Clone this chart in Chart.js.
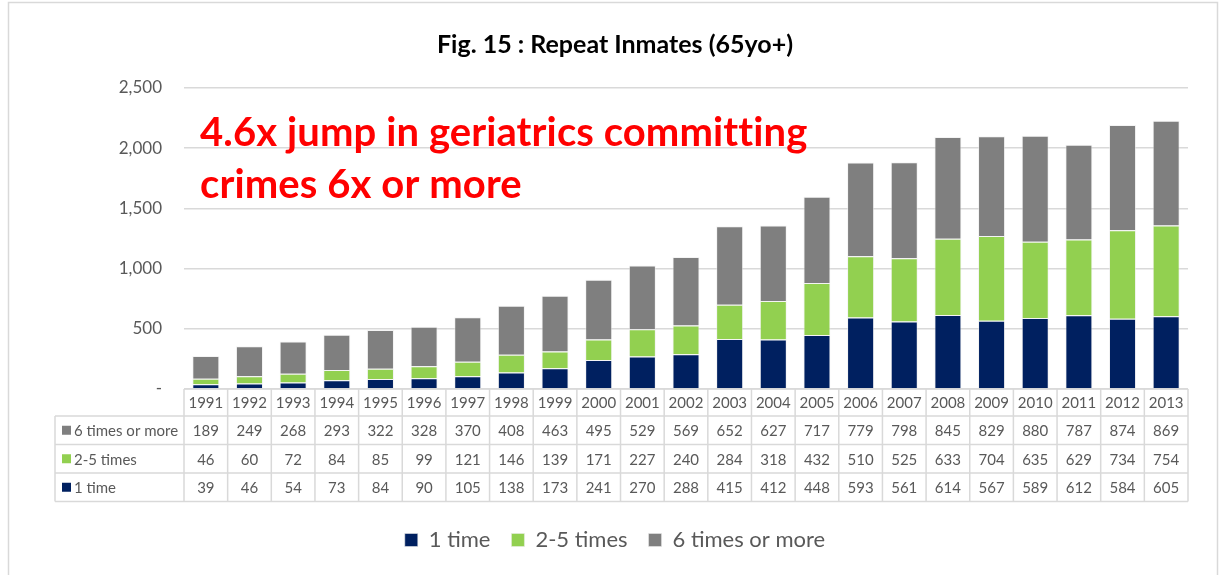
<!DOCTYPE html>
<html>
<head>
<meta charset="utf-8">
<script src="https://cdn.jsdelivr.net/npm/chart.js@4.4.1/dist/chart.umd.min.js"></script>
<style>
  html, body { margin: 0; padding: 0; background: #fff; }
  #wrap { width: 1223px; height: 575px; position: relative; }
</style>
</head>
<body>
<div id="wrap"><canvas id="c" width="1223" height="575"></canvas></div>
<script>
const years = ['1991','1992','1993','1994','1995','1996','1997','1998','1999','2000','2001','2002','2003','2004','2005','2006','2007','2008','2009','2010','2011','2012','2013'];
const oneTime = [39,46,54,73,84,90,105,138,173,241,270,288,415,412,448,593,561,614,567,589,612,584,605];
const twoFive = [46,60,72,84,85,99,121,146,139,171,227,240,284,318,432,510,525,633,704,635,629,734,754];
const sixPlus = [189,249,268,293,322,328,370,408,463,495,529,569,652,627,717,779,798,845,829,880,787,874,869];
const seriesNames = ['1 time','2-5 times','6 times or more'];
const yTicks = [0,500,1000,1500,2000,2500];
const titleText = 'Fig. 15 : Repeat Inmates (65yo+)';
const noteLines = ['4.6x jump in geriatrics committing','crimes 6x or more'];

const COLORS = ['#002060','#92D050','#7F7F7F'];
const FONT = 'Lato, "Liberation Sans", sans-serif';
const GRID = '#D9D9D9';
const TXT = '#595959';

const frame = {
  id: 'frame',
  beforeDraw(chart) {
    const ctx = chart.ctx;
    ctx.save();
    ctx.fillStyle = '#fff';
    ctx.fillRect(0,0,chart.width,chart.height);
    ctx.strokeStyle = GRID;
    ctx.lineWidth = 1.5;
    ctx.strokeRect(8.5, 2.5, 1209, 590);
    ctx.restore();
  }
};

const dataTable = {
  id: 'dataTable',
  afterDraw(chart) {
    const ctx = chart.ctx;
    const xs = chart.scales.x;
    const area = chart.chartArea;
    const n = years.length;
    const cw = (area.right - area.left) / n;
    const top = area.bottom;
    const rowH = [27, 28.5, 28.5, 28.5];
    const rowsY = [top];
    rowH.forEach(h => rowsY.push(rowsY[rowsY.length-1] + h));
    const labelLeft = 55;
    ctx.save();
    ctx.strokeStyle = GRID;
    ctx.lineWidth = 1.5;
    ctx.beginPath();
    ctx.moveTo(area.left, rowsY[0]); ctx.lineTo(area.right, rowsY[0]);
    for (let r = 1; r < rowsY.length; r++) {
      ctx.moveTo(labelLeft, rowsY[r]); ctx.lineTo(area.right, rowsY[r]);
    }
    ctx.moveTo(labelLeft, rowsY[1]); ctx.lineTo(labelLeft, rowsY[4]);
    for (let i = 0; i <= n; i++) {
      const x = area.left + i * cw;
      ctx.moveTo(x, rowsY[0]); ctx.lineTo(x, rowsY[4]);
    }
    ctx.stroke();

    ctx.fillStyle = TXT;
    ctx.textAlign = 'center';
    ctx.textBaseline = 'middle';
    ctx.font = '15px ' + FONT;
    const rows = [sixPlus, twoFive, oneTime];
    for (let i = 0; i < n; i++) {
      const cx = xs.getPixelForValue(i);
      ctx.fillText(years[i], cx, (rowsY[0] + rowsY[1]) / 2 + 1);
      rows.forEach((arr, r) => {
        ctx.fillText(String(arr[i]), cx, (rowsY[r+1] + rowsY[r+2]) / 2 + 1);
      });
    }
    const labelColors = [COLORS[2], COLORS[1], COLORS[0]];
    const labelNames = [seriesNames[2], seriesNames[1], seriesNames[0]];
    ctx.textAlign = 'left';
    for (let r = 0; r < 3; r++) {
      const cy = (rowsY[r+1] + rowsY[r+2]) / 2;
      ctx.fillStyle = labelColors[r];
      ctx.fillRect(62, cy - 4.5, 9, 9);
      ctx.fillStyle = TXT;
      ctx.fillText(labelNames[r], 74, cy + 1);
    }
    ctx.restore();
  }
};

const note = {
  id: 'note',
  afterDatasetsDraw(chart) {
    const ctx = chart.ctx;
    ctx.save();
    ctx.fillStyle = '#FF0000';
    ctx.font = 'bold 40px ' + FONT;
    if ('letterSpacing' in ctx) ctx.letterSpacing = '0.1px';
    ctx.textAlign = 'left';
    ctx.textBaseline = 'alphabetic';
    ctx.fillText(noteLines[0], 200, 146);
    ctx.fillText(noteLines[1], 200, 198);
    ctx.restore();
  }
};

new Chart(document.getElementById('c'), {
  type: 'bar',
  data: {
    labels: years,
    datasets: [
      { label: seriesNames[0], data: oneTime, backgroundColor: COLORS[0] },
      { label: seriesNames[1], data: twoFive, backgroundColor: COLORS[1] },
      { label: seriesNames[2], data: sixPlus, backgroundColor: COLORS[2] }
    ]
  },
  options: {
    responsive: false,
    animation: false,
    devicePixelRatio: 1,
    layout: { padding: { left: 22, right: 15, top: 0, bottom: 14 } },
    datasets: { bar: { barPercentage: 0.62, categoryPercentage: 1.0, borderWidth: 1, borderColor: 'rgba(235,235,235,0.55)' } },
    scales: {
      x: {
        stacked: true,
        grid: { display: false },
        border: { display: false },
        ticks: { display: false },
        afterFit(scale) { scale.height = 119; }
      },
      y: {
        stacked: true,
        min: 0, max: 2500,
        afterBuildTicks(scale) { scale.ticks = yTicks.map(v => ({ value: v })); },
        afterFit(scale) { scale.width = 162; },
        grid: { color: GRID, lineWidth: 1.5, drawTicks: false },
        border: { display: false },
        ticks: {
          padding: 22,
          color: TXT,
          font: { family: FONT, size: 17 },
          callback: v => v === 0 ? '-' : v.toLocaleString('en-US')
        }
      },
      yPad: {
        position: 'right',
        display: true,
        min: 0, max: 2500,
        grid: { display: false },
        border: { display: false },
        ticks: { display: false },
        afterFit(scale) { scale.width = 20; }
      }
    },
    plugins: {
      title: {
        display: true,
        text: titleText,
        color: '#000',
        font: { family: FONT, size: 25, weight: 'bold' },
        padding: { top: 30, bottom: 28 }
      },
      legend: {
        position: 'bottom',
        labels: {
          boxWidth: 13, boxHeight: 13,
          color: TXT,
          padding: 21,
          font: { family: FONT, size: 22 }
        }
      },
      tooltip: { enabled: false }
    }
  },
  plugins: [frame, dataTable, note]
});
</script>
</body>
</html>
